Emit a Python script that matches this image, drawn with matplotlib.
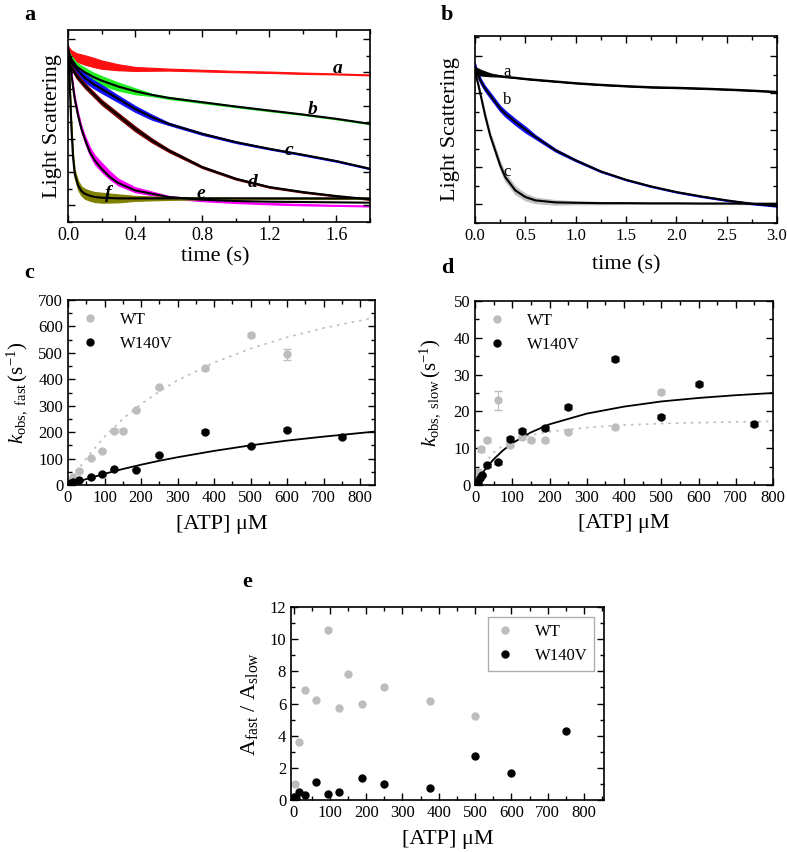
import matplotlib
matplotlib.use('Agg')
from matplotlib import pyplot as plt
from matplotlib import ticker

plt.rcParams['font.family'] = ['Liberation Serif', 'DejaVu Serif']
plt.rcParams['mathtext.fontset'] = 'custom'
plt.rcParams['mathtext.rm'] = 'Liberation Serif'
plt.rcParams['mathtext.it'] = 'Liberation Serif:italic'
plt.rcParams['axes.linewidth'] = 1.2

W, H = 787, 852
GREY = '#bdbdbd'

# ---- panel a : light scattering traces (arbitrary units) ----
t_slow = [0, 0.02, 0.05, 0.1, 0.15, 0.2, 0.3, 0.4, 0.5, 0.6, 0.8, 1.0, 1.2, 1.4, 1.6, 1.8]
a_red = [9.5, 9.1, 8.9, 8.74, 8.6, 8.46, 8.3, 8.2, 8.18, 8.16, 8.1, 8.04, 8.0, 7.94, 7.9, 7.84]
a_red_n = [0.06, 0.22, 0.25, 0.28, 0.28, 0.25, 0.18, 0.12, 0.09, 0.06, 0.05, 0.04, 0.04, 0.04, 0.03, 0.03]
a_green = [9.3, 8.8, 8.35, 8.0, 7.72, 7.5, 7.14, 6.86, 6.64, 6.46, 6.2, 5.94, 5.7, 5.46, 5.2, 4.9]
a_green_n = [0.06, 0.18, 0.24, 0.27, 0.27, 0.27, 0.24, 0.18, 0.07, 0.06, 0.05, 0.04, 0.04, 0.03, 0.03, 0.03]
a_blue = [9.0, 8.6, 8.2, 7.66, 7.3, 7.0, 6.4, 5.8, 5.3, 4.9, 4.3, 3.8, 3.4, 3.04, 2.66, 2.2]
a_blue_n = [0.06, 0.18, 0.2, 0.24, 0.24, 0.24, 0.2, 0.18, 0.15, 0.07, 0.06, 0.05, 0.04, 0.04, 0.04, 0.03]
a_brown = [8.7, 8.3, 7.8, 7.2, 6.7, 6.2, 5.4, 4.6, 3.9, 3.3, 2.3, 1.6, 1.1, 0.8, 0.56, 0.36]
a_brown_n = [0.06, 0.12, 0.15, 0.15, 0.15, 0.15, 0.15, 0.15, 0.12, 0.09, 0.06, 0.05, 0.04, 0.04, 0.03, 0.03]

t_fast = [0, 0.01, 0.02, 0.03, 0.04, 0.06, 0.08, 0.1, 0.13, 0.16, 0.2, 0.25, 0.3, 0.4, 0.6, 0.8,
          1.0, 1.2, 1.4, 1.6, 1.8]
a_mag = [9.5, 8.9, 7.9, 7.1, 6.4, 5.4, 4.6, 4.0, 3.26, 2.74, 2.3, 1.8, 1.4, 0.94, 0.5, 0.3,
         0.18, 0.1, 0.04, 0.0, -0.04]
a_mag_fit = [9.5, 8.9, 7.9, 7.1, 6.4, 5.4, 4.6, 4.0, 3.2, 2.7, 2.2, 1.7, 1.34, 0.9, 0.5, 0.34,
             0.26, 0.22, 0.2, 0.18, 0.16]
a_mag_n = [0.06, 0.12, 0.18, 0.18, 0.18, 0.18, 0.18, 0.2, 0.24, 0.27, 0.27, 0.24, 0.2, 0.15, 0.07, 0.05,
           0.04, 0.04, 0.04, 0.03, 0.03]
a_olive = [9.6, 7.3, 4.7, 2.9, 1.9, 1.2, 0.86, 0.7, 0.58, 0.5, 0.46, 0.44, 0.42, 0.42, 0.42, 0.42,
           0.42, 0.42, 0.42, 0.42, 0.42]
a_olive_n = [0.06, 0.18, 0.24, 0.24, 0.24, 0.27, 0.27, 0.3, 0.3, 0.3, 0.3, 0.27, 0.24, 0.15, 0.09, 0.06,
             0.05, 0.04, 0.04, 0.04, 0.03]

# ---- panel b ----
t_b = [0, 0.03, 0.06, 0.1, 0.15, 0.2, 0.25, 0.3, 0.4, 0.5, 0.6, 0.8, 1.0, 1.25, 1.5, 1.75, 2.0,
       2.25, 2.5, 2.75, 3.0]
b_black = [7.21, 7.15, 7.1, 7.05, 6.99, 6.95, 6.92, 6.88, 6.83, 6.77, 6.72, 6.63, 6.54, 6.45, 6.38,
           6.32, 6.29, 6.25, 6.2, 6.14, 6.07]
b_black_n = [0.18, 0.18, 0.15, 0.12, 0.08, 0.05, 0.03, 0.02, 0.02, 0.02, 0.02, 0.02, 0.02, 0.02, 0.02,
             0.02, 0.02, 0.02, 0.02, 0.02, 0.02]
b_blue = [7.42, 6.97, 6.61, 6.25, 5.89, 5.53, 5.17, 4.9, 4.45, 4.04, 3.64, 2.92, 2.38, 1.78, 1.33,
          0.97, 0.67, 0.43, 0.22, 0.04, -0.09]
b_blue_n = [0.2, 0.14, 0.14, 0.14, 0.15, 0.15, 0.15, 0.16, 0.16, 0.16, 0.1, 0.07, 0.05, 0.04, 0.03,
            0.03, 0.03, 0.03, 0.03, 0.03, 0.03]
b_grey = [7.15, 6.52, 5.8, 4.81, 3.73, 2.92, 2.11, 1.48, 0.76, 0.4, 0.22, 0.11, 0.09, 0.07, 0.07,
          0.06, 0.06, 0.05, 0.05, 0.04, 0.04]
b_grey_n = [0.06, 0.08, 0.1, 0.12, 0.15, 0.18, 0.2, 0.22, 0.2, 0.18, 0.15, 0.12, 0.08, 0.06, 0.04, 0.03,
            0.03, 0.03, 0.03, 0.03, 0.03]

# ---- panel c : k_obs,fast ----
c_wt_x = [3.75, 7.5, 15, 31.25, 62.5, 93.75, 125, 150, 187.5, 250, 375, 500, 600]
c_wt_y = [8, 16, 29, 54, 101, 129, 206, 206, 284, 372, 441, 567, 494]
c_wt_e = [1, 1, 2, 3, 3, 3, 4, 4, 4, 4, 5, 8, 20]
c_mut_x = [3.75, 7.5, 15, 31.25, 62.5, 93.75, 125, 187.5, 250, 375, 500, 600, 750]
c_mut_y = [2, 6, 10, 18, 30, 42, 59, 58, 115, 202, 149, 209, 183]
c_mut_e = [1, 1, 2, 2, 3, 3, 3, 3, 4, 5, 4, 5, 5]
c_fit_x = [0, 25, 50, 100, 150, 200, 250, 300, 400, 500, 600, 700, 840]
c_wt_fit = [0, 53, 101, 183, 250, 306, 354, 396, 463, 516, 559, 594, 633]
c_mut_fit = [0, 11.5, 22.3, 42.3, 60.4, 76.7, 91.6, 105, 129, 150, 168, 183, 202]

# ---- panel d : k_obs,slow ----
d_wt_x = [3.75, 7.5, 15, 31.25, 62.5, 93.75, 125, 150, 187.5, 250, 375, 500]
d_wt_y = [1.4, 3.6, 9.7, 12.2, 23.0, 10.8, 13.0, 12.2, 12.2, 14.4, 15.7, 25.2]
d_wt_e = [0.3, 0.4, 0.6, 0.6, 2.5, 0.5, 0.5, 0.4, 0.4, 0.4, 0.4, 0.5]
d_mut_x = [3.75, 7.5, 12.5, 18.75, 31.25, 62.5, 93.75, 125, 187.5, 250, 375, 500, 600, 750]
d_mut_y = [0.5, 0.9, 1.8, 2.7, 5.3, 6.2, 12.5, 14.6, 15.4, 21.2, 34.2, 18.6, 27.4, 16.5]
d_mut_e = [0.3, 0.3, 0.3, 0.3, 0.4, 0.4, 0.5, 0.5, 0.5, 0.5, 0.5, 0.5, 0.5, 0.5]
d_fit_x = [0, 10, 25, 50, 75, 100, 150, 200, 300, 400, 500, 600, 700, 800]
d_wt_fit = [0, 2.85, 5.8, 8.8, 10.7, 11.9, 13.5, 14.5, 15.6, 16.3, 16.7, 16.95, 17.15, 17.3]
d_mut_fit = [0, 1.7, 3.95, 6.99, 9.4, 11.35, 14.3, 16.5, 19.4, 21.3, 22.7, 23.65, 24.4, 25.0]

# ---- panel e : amplitude ratio ----
e_wt_x = [3.75, 15, 31.25, 62.5, 93.75, 125, 150, 187.5, 250, 375, 500]
e_wt_y = [1.0, 3.6, 6.85, 6.2, 10.6, 5.7, 7.85, 6.0, 7.0, 6.17, 5.24]
e_mut_x = [1.875, 7.5, 15, 31.25, 62.5, 93.75, 125, 187.5, 250, 375, 500, 600, 750]
e_mut_y = [0.2, 0.1, 0.52, 0.33, 1.12, 0.35, 0.52, 1.35, 0.97, 0.72, 2.73, 1.7, 4.3]


def px_axes(fig, x0, y0, x1, y1):
    # pixel box (top-left origin) -> figure axes
    return fig.add_axes([x0 / W, 1 - y1 / H, (x1 - x0) / W, (y1 - y0) / H])


def style(ax, fs):
    ax.tick_params(which='both', direction='in', top=True, right=True, labelsize=fs, width=1)
    ax.tick_params(which='major', length=5)
    ax.tick_params(which='minor', length=3)


def trace(ax, t, y, n, colour, fit=None):
    lo = [a - b for a, b in zip(y, n)]
    hi = [a + b for a, b in zip(y, n)]
    ax.fill_between(t, lo, hi, color=colour, lw=0.8, edgecolor=colour)
    if fit is not None:
        ax.plot(t, fit, color='black', lw=1.5)


def points(ax, x, y, err, colour, label):
    ax.errorbar(x, y, yerr=err, fmt='none', ecolor=colour, capsize=3, elinewidth=0.8)
    ax.plot(x, y, 'o', color=colour, ms=5, label=label)


fig = plt.figure(figsize=(W / 100, H / 100), dpi=100)

# a
ax = px_axes(fig, 68, 30, 370, 222)
trace(ax, t_slow, a_red, a_red_n, '#ff1010')
trace(ax, t_slow, a_green, a_green_n, '#22ee22', a_green)
trace(ax, t_slow, a_blue, a_blue_n, '#1010ff', a_blue)
trace(ax, t_slow, a_brown, a_brown_n, '#800000', a_brown)
trace(ax, t_fast, a_mag, a_mag_n, '#ff00ff', a_mag_fit)
trace(ax, t_fast, a_olive, a_olive_n, '#808000', a_olive)
ax.set_xlim(0, 1.8)
ax.set_ylim(-1, 10.54)
ax.xaxis.set_major_locator(ticker.MultipleLocator(0.4))
ax.xaxis.set_minor_locator(ticker.MultipleLocator(0.2))
ax.yaxis.set_major_locator(ticker.MultipleLocator(2))
ax.yaxis.set_minor_locator(ticker.MultipleLocator(1))
ax.set_yticklabels([])
style(ax, 13)
for lab, tx, ty in [('a', 1.61, 8.2), ('b', 1.46, 5.76), ('c', 1.32, 3.3), ('d', 1.10, 1.4),
                    ('e', 0.79, 0.74), ('f', 0.24, 0.74)]:
    ax.text(tx, ty, lab, style='italic', weight='bold', fontsize=14, ha='center', va='center')
ax.set_xlabel('time (s)', fontsize=16)
ax.xaxis.set_label_coords(0.487, -0.13)
ax.set_ylabel('Light Scattering', fontsize=16)
ax.yaxis.set_label_coords(-0.02, 0.5)
fig.text(30 / W, 1 - 15 / H, 'a', weight='bold', fontsize=16, ha='center', va='center')

# b
ax = px_axes(fig, 475, 36, 777, 223)
trace(ax, t_b, b_grey, b_grey_n, '#c0c0c0', b_grey)
trace(ax, t_b, b_blue, b_blue_n, '#1010ff', b_blue)
trace(ax, t_b, b_black, b_black_n, 'black', b_black)
ax.set_xlim(0, 3.0)
ax.set_ylim(-1, 9.08)
ax.xaxis.set_major_locator(ticker.MultipleLocator(0.5))
ax.xaxis.set_minor_locator(ticker.MultipleLocator(0.25))
ax.yaxis.set_major_locator(ticker.MultipleLocator(2))
ax.yaxis.set_minor_locator(ticker.MultipleLocator(1))
ax.set_yticklabels([])
style(ax, 12)
for lab, ty in [('a', 7.15), ('b', 5.62), ('c', 1.75)]:
    ax.text(0.315, ty, lab, fontsize=12, ha='center', va='center')
ax.set_xlabel('time (s)', fontsize=16)
ax.xaxis.set_label_coords(0.5, -0.171)
ax.set_ylabel('Light Scattering', fontsize=16)
ax.yaxis.set_label_coords(-0.05, 0.5)
fig.text(447 / W, 1 - 15 / H, 'b', weight='bold', fontsize=16, ha='center', va='center')

# c
ax = px_axes(fig, 68, 300, 375, 485)
ax.plot(c_fit_x, c_wt_fit, color=GREY, lw=1.2, ls=(0, (1.5, 3)))
ax.plot(c_fit_x, c_mut_fit, color='black', lw=1.3)
points(ax, c_wt_x, c_wt_y, c_wt_e, GREY, 'WT')
points(ax, c_mut_x, c_mut_y, c_mut_e, 'black', 'W140V')
ax.set_xlim(0, 841)
ax.set_ylim(0, 700)
ax.xaxis.set_major_locator(ticker.MultipleLocator(100))
ax.xaxis.set_minor_locator(ticker.MultipleLocator(50))
ax.yaxis.set_major_locator(ticker.MultipleLocator(100))
ax.yaxis.set_minor_locator(ticker.MultipleLocator(50))
style(ax, 12)
ax.legend(loc='upper left', frameon=False, fontsize=12, handlelength=1.2, handletextpad=1.2,
          borderaxespad=0.3)
ax.set_xlabel(r'[ATP] μM', fontsize=16)
ax.xaxis.set_label_coords(0.5, -0.162)
ax.set_ylabel(r'$k_{\mathrm{obs,\ fast}}\,(\mathrm{s}^{-1})$', fontsize=15)
ax.yaxis.set_label_coords(-0.125, 0.5)
fig.text(29 / W, 1 - 273 / H, 'c', weight='bold', fontsize=16, ha='center', va='center')

# d
ax = px_axes(fig, 475, 301, 773, 485)
ax.plot(d_fit_x, d_wt_fit, color=GREY, lw=1.2, ls=(0, (1.5, 3)))
ax.plot(d_fit_x, d_mut_fit, color='black', lw=1.3)
points(ax, d_wt_x, d_wt_y, d_wt_e, GREY, 'WT')
points(ax, d_mut_x, d_mut_y, d_mut_e, 'black', 'W140V')
ax.set_xlim(0, 800)
ax.set_ylim(0, 50)
ax.xaxis.set_major_locator(ticker.MultipleLocator(100))
ax.xaxis.set_minor_locator(ticker.MultipleLocator(50))
ax.yaxis.set_major_locator(ticker.MultipleLocator(10))
ax.yaxis.set_minor_locator(ticker.MultipleLocator(5))
style(ax, 12)
ax.legend(loc='upper left', frameon=False, fontsize=12, handlelength=1.2, handletextpad=1.2,
          borderaxespad=0.3)
ax.set_xlabel(r'[ATP] μM', fontsize=16)
ax.xaxis.set_label_coords(0.5, -0.16)
ax.set_ylabel(r'$k_{\mathrm{obs,\ slow}}\,(\mathrm{s}^{-1})$', fontsize=15)
ax.yaxis.set_label_coords(-0.107, 0.5)
fig.text(447 / W, 1 - 268 / H, 'd', weight='bold', fontsize=16, ha='center', va='center')

# e
ax = px_axes(fig, 291, 607, 604, 800)
ax.plot(e_wt_x, e_wt_y, 'o', color=GREY, ms=5, label='WT')
ax.plot(e_mut_x, e_mut_y, 'o', color='black', ms=5, label='W140V')
ax.set_xlim(-7, 855)
ax.set_ylim(0, 12)
ax.xaxis.set_major_locator(ticker.MultipleLocator(100))
ax.xaxis.set_minor_locator(ticker.MultipleLocator(50))
ax.yaxis.set_major_locator(ticker.MultipleLocator(2))
ax.yaxis.set_minor_locator(ticker.MultipleLocator(1))
style(ax, 12)
leg = ax.legend(loc='upper right', fontsize=12, handlelength=1.2, handletextpad=1.2, fancybox=False,
                borderaxespad=0.6)
leg.get_frame().set_edgecolor('#999999')
ax.set_xlabel(r'[ATP] μM', fontsize=16)
ax.xaxis.set_label_coords(0.5, -0.155)
ax.set_ylabel(r'A$_{\mathrm{fast}}$ / A$_{\mathrm{slow}}$', fontsize=16)
ax.yaxis.set_label_coords(-0.099, 0.5)
fig.text(247 / W, 1 - 582 / H, 'e', weight='bold', fontsize=16, ha='center', va='center')

fig.savefig('out.png', dpi=100)
